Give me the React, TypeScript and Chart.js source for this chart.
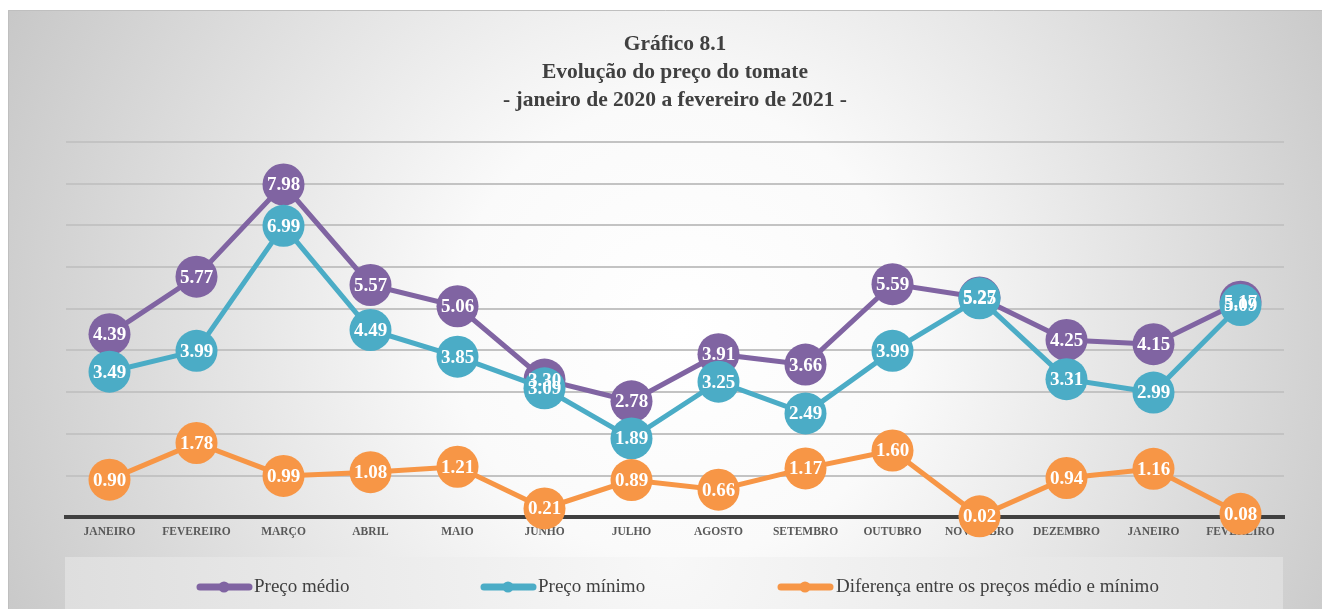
import React, { useEffect, useRef } from "react";
import { Chart, registerables } from "chart.js";

Chart.register(...registerables);

const categories = [
  "JANEIRO", "FEVEREIRO", "MARÇO", "ABRIL", "MAIO", "JUNHO", "JULHO",
  "AGOSTO", "SETEMBRO", "OUTUBRO", "NOVEMBRO", "DEZEMBRO", "JANEIRO", "FEVEREIRO",
];
const precoMedio = [4.39, 5.77, 7.98, 5.57, 5.06, 3.30, 2.78, 3.91, 3.66, 5.59, 5.27, 4.25, 4.15, 5.17];
const precoMinimo = [3.49, 3.99, 6.99, 4.49, 3.85, 3.09, 1.89, 3.25, 2.49, 3.99, 5.25, 3.31, 2.99, 5.09];
const diferenca = [0.90, 1.78, 0.99, 1.08, 1.21, 0.21, 0.89, 0.66, 1.17, 1.60, 0.02, 0.94, 1.16, 0.08];
const seriesNames = ["Preço médio", "Preço mínimo", "Diferença entre os preços médio e mínimo"];
const titleLines = ["Gráfico 8.1", "Evolução do preço do tomate", "- janeiro de 2020 a fevereiro de 2021 -"];

const PURPLE = "#8064A2";
const TEAL = "#4BACC6";
const ORANGE = "#F79646";
const SERIF = "'Liberation Serif', 'DejaVu Serif', serif";

const backgroundPlugin = {
  id: "bg",
  beforeDraw(chart: any) {
    const { ctx, width, height } = chart;
    ctx.save();
    ctx.fillStyle = "#ffffff";
    ctx.fillRect(0, 0, width, height);
    const g = ctx.createRadialGradient(680, 330, 0, 680, 330, 760);
    g.addColorStop(0, "#ffffff");
    g.addColorStop(0.3, "#fafafa");
    g.addColorStop(1, "#c6c6c6");
    ctx.fillStyle = g;
    ctx.fillRect(8, 10, width - 8, height - 10);
    ctx.strokeStyle = "#bfbfbf";
    ctx.lineWidth = 1;
    ctx.beginPath();
    ctx.moveTo(8.5, height);
    ctx.lineTo(8.5, 10.5);
    ctx.lineTo(width, 10.5);
    ctx.stroke();
    // legend panel
    const lg = ctx.createRadialGradient(670, 560, 0, 670, 560, 700);
    lg.addColorStop(0, "#f8f8f8");
    lg.addColorStop(1, "#dadada");
    ctx.fillStyle = lg;
    ctx.fillRect(65, 557, 1218, height - 557);
    ctx.restore();
  },
};

const labelsPlugin = {
  id: "pointLabels",
  afterDatasetsDraw(chart: any) {
    const { ctx } = chart;
    ctx.save();
    ctx.fillStyle = "#ffffff";
    ctx.font = `bold 19px ${SERIF}`;
    ctx.textAlign = "center";
    ctx.textBaseline = "middle";
    chart.data.datasets.forEach((ds: any, i: number) => {
      const meta = chart.getDatasetMeta(i);
      meta.data.forEach((pt: any, j: number) => {
        ctx.fillText(Number(ds.data[j]).toFixed(2), pt.x, pt.y + 1);
      });
    });
    ctx.restore();
  },
};

const legendPlugin = {
  id: "customLegend",
  afterDraw(chart: any) {
    const { ctx } = chart;
    const items = [
      { x: 196, tx: 254, color: PURPLE },
      { x: 480, tx: 538, color: TEAL },
      { x: 777, tx: 836, color: ORANGE },
    ];
    const y = 587;
    ctx.save();
    chart.data.datasets.forEach((ds: any, i: number) => {
      const it = items[i];
      ctx.strokeStyle = it.color;
      ctx.lineWidth = 7;
      ctx.lineCap = "round";
      ctx.beginPath();
      ctx.moveTo(it.x + 4, y);
      ctx.lineTo(it.x + 53, y);
      ctx.stroke();
      ctx.fillStyle = it.color;
      ctx.beginPath();
      ctx.arc(it.x + 28, y, 5.5, 0, Math.PI * 2);
      ctx.fill();
      ctx.fillStyle = "#404040";
      ctx.font = `19px ${SERIF}`;
      ctx.textAlign = "left";
      ctx.textBaseline = "middle";
      ctx.fillText(ds.label, it.tx, y);
    });
    ctx.restore();
  },
};

export default function App() {
  const ref = useRef<HTMLCanvasElement | null>(null);
  useEffect(() => {
    if (!ref.current) return;
    const mk = (label: string, data: number[], color: string, order: number) => ({
      label,
      data,
      borderColor: color,
      backgroundColor: color,
      pointBackgroundColor: color,
      pointBorderColor: color,
      pointBorderWidth: 0,
      pointRadius: 21,
      pointHoverRadius: 21,
      borderWidth: 5,
      tension: 0,
      clip: false,
      order,
    });
    const chart = new Chart(ref.current, {
      type: "line",
      data: {
        labels: categories,
        datasets: [
          mk(seriesNames[0], precoMedio, PURPLE, 3),
          mk(seriesNames[1], precoMinimo, TEAL, 2),
          mk(seriesNames[2], diferenca, ORANGE, 1),
        ],
      },
      options: {
        animation: false,
        responsive: false,
        maintainAspectRatio: false,
        layout: { padding: { left: 66, right: 38, top: 20, bottom: 70 } },
        plugins: {
          legend: { display: false },
          tooltip: { enabled: false },
          title: {
            display: true,
            text: titleLines,
            color: "#404040",
            font: { family: SERIF, size: 21.5, weight: "bold", lineHeight: 1.302 },
            padding: { top: 10, bottom: 28 },
          },
        },
        scales: {
          x: {
            offset: true,
            grid: { display: false },
            border: { display: true, color: "#404040", width: 4 },
            ticks: {
              color: "#595959",
              font: { family: SERIF, size: 11.5, weight: "bold" },
              maxRotation: 0,
              autoSkip: false,
              padding: 0,
            },
          },
          y: {
            min: 0,
            max: 9,
            ticks: { display: false, stepSize: 1 },
            border: { display: false },
            grid: {
              color: (c: any) => (c.tick && c.tick.value === 0 ? "rgba(0,0,0,0)" : "#c3c3c3"),
              lineWidth: 2,
              drawTicks: false,
            },
          },
        },
      },
      plugins: [backgroundPlugin, labelsPlugin, legendPlugin],
    } as any);
    return () => chart.destroy();
  }, []);
  return (
    <div style={{ position: "fixed", left: 0, top: 0, width: 1322, height: 609 }}>
      <canvas ref={ref} width={1322} height={609} style={{ display: "block" }} />
    </div>
  );
}
